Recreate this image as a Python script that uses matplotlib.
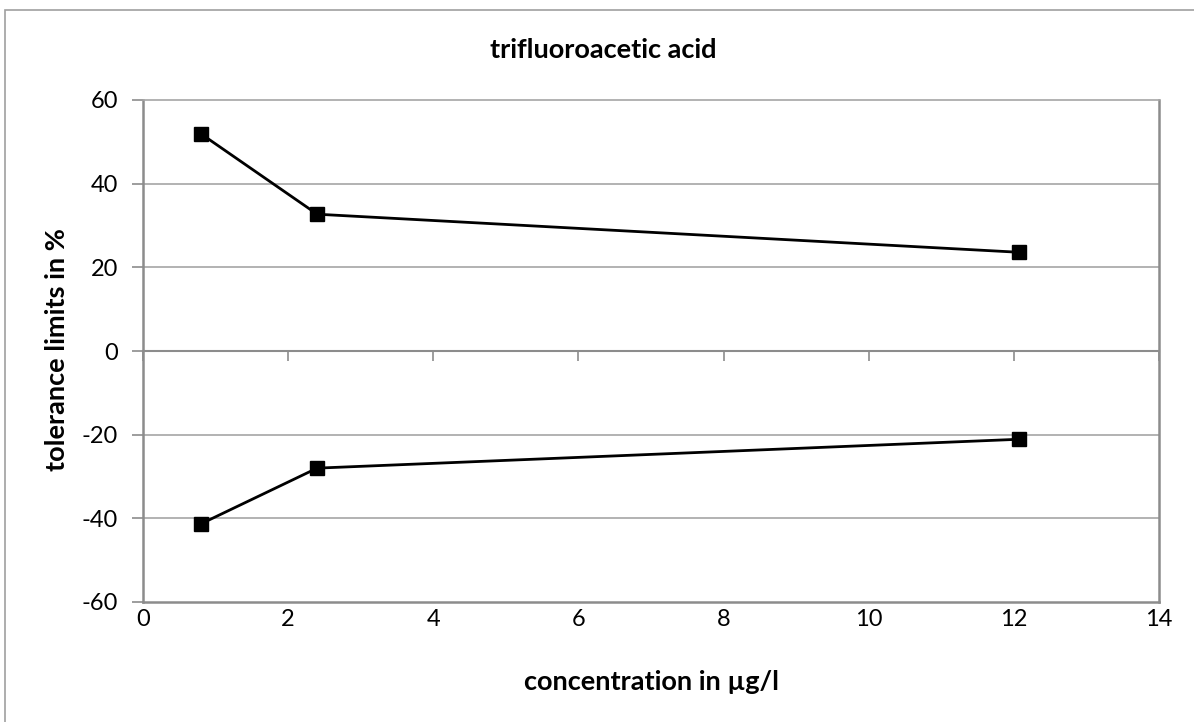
import matplotlib
matplotlib.use("Agg")
from matplotlib import pyplot as plt
from matplotlib.patches import Rectangle

# data
conc = [0.8, 2.4, 12.07]
upper = [51.9, 32.7, 23.6]
lower = [-41.3, -28.0, -21.1]

xticks = [0, 2, 4, 6, 8, 10, 12, 14]
yticks = [-60, -40, -20, 0, 20, 40, 60]

plt.rcParams['font.family'] = ['Lato', 'DejaVu Sans']
gray = '#8c8c8c'

fig = plt.figure(figsize=(11.94, 7.22), dpi=100)
ax = fig.add_axes([143/1194, 1 - 602/722, (1159-143)/1194, (602-100)/722])

# outer chart border
fig.patches.append(Rectangle((5/1194, -0.1), 1.2, 1 - 10/722 + 0.1, transform=fig.transFigure,
                             fill=False, edgecolor='#a0a0a0', linewidth=1.2))

for y in [-40, -20, 20, 40]:
    ax.axhline(y, color='#a6a6a6', linewidth=1.2, zorder=1)

ax.plot(conc, upper, color='black', linewidth=2, marker='s', markersize=10, zorder=3)
ax.plot(conc, lower, color='black', linewidth=2, marker='s', markersize=10, zorder=3)

ax.set_xlim(0, 14)
ax.set_ylim(-60, 60)

# horizontal axis crosses at zero, labels sit at the bottom
ax.spines['bottom'].set_position(('data', 0))
for s in ['bottom', 'left', 'right', 'top']:
    ax.spines[s].set_color(gray)
    ax.spines[s].set_linewidth(1.8)
ax.spines['bottom'].set_linewidth(1.5)
ax.spines['top'].set_color('#a6a6a6')
ax.spines['top'].set_linewidth(1.2)

ax.set_xticks(xticks)
ax.tick_params(axis='x', labelbottom=False, length=7, width=1.2, color=gray, direction='out')
ax.set_yticks(yticks)
ax.set_yticklabels([str(v) for v in yticks])
ax.tick_params(axis='y', length=8, width=1.2, color=gray, direction='out', pad=10, labelsize=17)

sec = ax.secondary_xaxis(0)
sec.set_xticks(xticks)
sec.set_xticklabels([str(v) for v in xticks])
sec.tick_params(length=0, pad=5, labelsize=17)
sec.spines['bottom'].set_color(gray)
sec.spines['bottom'].set_linewidth(1.8)

fig.text(603/1194, 1 - 50/722, 'trifluoroacetic acid', ha='center', va='center',
         fontsize=19.5, fontweight='bold')
fig.text(652/1194, 1 - 682/722, 'concentration in µg/l', ha='center', va='center',
         fontsize=19.5, fontweight='bold')
fig.text(57/1194, 1 - 350/722, 'tolerance limits in %', ha='center', va='center',
         rotation=90, fontsize=19.5, fontweight='bold')

fig.savefig('out.png', dpi=100)
